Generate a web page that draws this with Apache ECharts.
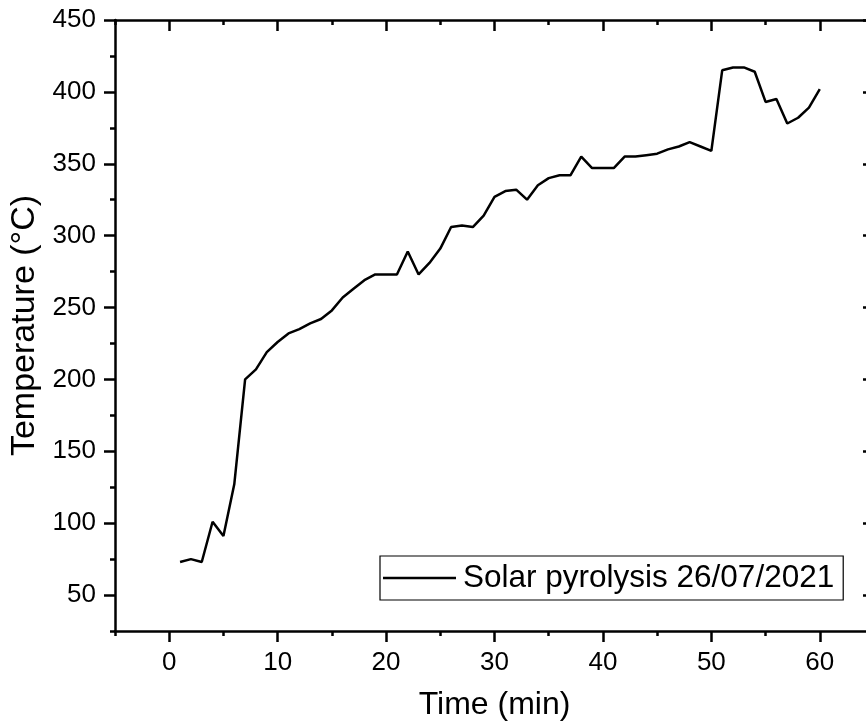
<!DOCTYPE html>
<html>
<head>
<meta charset="utf-8">
<script src="https://cdn.jsdelivr.net/npm/echarts@6/dist/echarts.min.js"></script>
<style>
  html, body { margin: 0; padding: 0; background: #fff; }
  #chart { width: 866px; height: 726px; }
</style>
</head>
<body>
<div id="chart"></div>
<script>
// Reactor temperature log, one reading per minute
const timeMin = [1,2,3,4,5,6,7,8,9,10,11,12,13,14,15,16,17,18,19,20,21,22,23,24,25,26,27,28,29,30,
                 31,32,33,34,35,36,37,38,39,40,41,42,43,44,45,46,47,48,49,50,51,52,53,54,55,56,57,58,59,60];
const temperature = [73,75,73,101,91,127,200,207,219,226,232,235,239,242,248,257,263,269,273,273,
                     273,289,273,281,291,306,307,306,314,327,331,332,325,335,340,342,342,355,347,347,
                     347,355,355,356,357,360,362,365,362,359,415,417,417,414,393,395,378,382,389,402];
const seriesName = 'Solar pyrolysis 26/07/2021';

const xMajor = [0,10,20,30,40,50,60];
const xMinor = [-5,5,15,25,35,45,55,65];
const yMajor = [50,100,150,200,250,300,350,400,450];
const yMinor = [25,75,125,175,225,275,325,375,425];

const FONT = '"Liberation Sans", Arial, sans-serif';
const X_RANGE = { min: -5, max: 65 };
const Y_RANGE = { min: 25, max: 450 };
const AXIS_W = 2.5;

function xAxisDef(pos, ticks, len, inside, withLabels, withLine) {
  return {
    type: 'value', position: pos, ...X_RANGE,
    axisLine: { show: withLine, onZero: false, lineStyle: { color: '#000', width: AXIS_W } },
    axisTick: { show: true, inside: inside, length: len, customValues: ticks, lineStyle: { color: '#000', width: AXIS_W } },
    axisLabel: withLabels
      ? { show: true, customValues: ticks, color: '#000', fontFamily: FONT, fontSize: 26, margin: 19 }
      : { show: false },
    splitLine: { show: false }
  };
}
function yAxisDef(pos, ticks, len, inside, withLabels, withLine) {
  return {
    type: 'value', position: pos, ...Y_RANGE,
    axisLine: { show: withLine, onZero: false, lineStyle: { color: '#000', width: AXIS_W } },
    axisTick: { show: true, inside: inside, length: len, customValues: ticks, lineStyle: { color: '#000', width: AXIS_W } },
    axisLabel: withLabels
      ? { show: true, customValues: ticks, color: '#000', fontFamily: FONT, fontSize: 26, margin: 19 }
      : { show: false },
    splitLine: { show: false }
  };
}

const xAxes = [
  Object.assign(xAxisDef('bottom', xMajor, 11, false, true, true), {
    name: 'Time (min)', nameLocation: 'middle', nameGap: 58,
    nameTextStyle: { color: '#000', fontFamily: FONT, fontSize: 32 }
  }),
  xAxisDef('bottom', xMinor, 5, false, false, false),
  xAxisDef('top', xMajor, 11, true, false, true),
  xAxisDef('top', xMinor, 5, true, false, false)
];
const yAxes = [
  Object.assign(yAxisDef('left', yMajor, 11, false, true, true), {
    name: 'Temperature (°C)', nameLocation: 'middle', nameGap: 72,
    nameTextStyle: { color: '#000', fontFamily: FONT, fontSize: 34 }
  }),
  yAxisDef('left', yMinor, 5, false, false, false),
  yAxisDef('right', yMajor, 11, true, false, true),
  yAxisDef('right', yMinor, 5, true, false, false)
];

const chart = echarts.init(document.getElementById('chart'), null, { renderer: 'canvas' });
chart.setOption({
  backgroundColor: '#fff',
  animation: false,
  grid: { left: 115, width: 759, top: 20, height: 611, containLabel: false, outerBoundsMode: 'none' },
  xAxis: xAxes,
  yAxis: yAxes,
  legend: {
    show: true,
    left: 380, top: 556,
    data: [{ name: seriesName, icon: 'rect' }],
    itemWidth: 73, itemHeight: 2.5, itemGap: 0,
    padding: [6, 9, 6, 3],
    borderColor: '#000', borderWidth: 1.2, borderRadius: 0,
    backgroundColor: '#fff',
    textStyle: { color: '#000', fontFamily: FONT, fontSize: 31.5, padding: [0, 0, 0, 2] }
  },
  series: [{
    name: seriesName,
    type: 'line',
    xAxisIndex: 0, yAxisIndex: 0,
    data: timeMin.map((t, i) => [t, temperature[i]]),
    showSymbol: false, symbol: 'none',
    lineStyle: { color: '#000', width: 2.5 },
    itemStyle: { color: '#000' }
  }]
});
</script>
</body>
</html>
